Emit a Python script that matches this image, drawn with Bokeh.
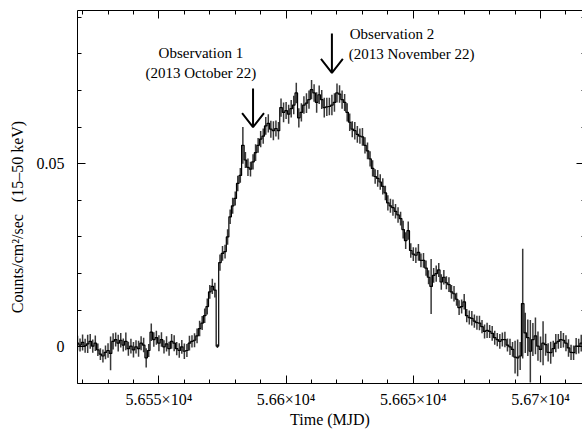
from bokeh.plotting import figure
from bokeh.models import Range1d, FixedTicker, CustomJSTickFormatter, LinearAxis, ColumnDataSource
from bokeh.embed import file_html
from bokeh.resources import INLINE
from bokeh.core.properties import value

# ---- data (Swift/BAT daily light curve, 15-50 keV) ----
mjd_start = 56518
rate_milli = [
    1.0, 0.5, 1.2, 0.3, 0.8, 1.5, 0.2, 1.0, -0.8, -2.0,
    -2.5, -1.5, -1.0, -1.8, 1.5, 2.0, 1.0, 1.8, 0.5, 1.5,
    -0.5, 0.2, -0.8, 0.0, -0.5, 1.0, 0.5, -3.0, -1.0, 4.0,
    2.0, 2.5, 1.0, 2.0, 0.0, 0.8, -0.5, 1.5, 1.0, -0.5,
    -1.0, 0.0, -1.2, -1.0, 1.0, 1.5, 1.8, 3.0, 5.0, 6.5,
    8.5, 11.0, 15.0, 16.5, 15.5, 0.2, 23.0, 25.5, 26.0, 30.0,
    35.5, 38.5, 40.5, 44.6, 46.8, 55.0, 51.0, 49.0, 48.5, 50.5,
    53.0, 55.0, 56.7, 57.5, 60.3, 61.0, 59.4, 59.0, 59.6, 59.0,
    65.3, 64.0, 64.5, 63.5, 65.0, 66.0, 69.3, 62.5, 64.0, 66.0,
    66.5, 67.5, 70.2, 69.3, 66.7, 68.8, 67.5, 65.3, 65.5, 65.6,
    66.0, 66.7, 69.3, 69.0, 67.5, 66.7, 64.0, 61.3, 59.4, 59.0,
    58.0, 57.5, 57.3, 55.0, 53.5, 51.3, 48.7, 46.5, 46.0, 45.0,
    43.8, 42.0, 39.3, 38.5, 38.0, 37.0, 36.0, 35.0, 32.0, 29.0,
    31.7, 26.3, 25.3, 25.0, 25.8, 23.6, 23.6, 21.5, 19.0, 16.5,
    19.5, 20.0, 21.0, 17.7, 19.0, 17.5, 17.0, 15.0, 14.5, 13.0,
    10.7, 11.0, 12.3, 8.5, 8.0, 7.8, 7.0, 6.6, 6.5, 5.5,
    4.2, 4.5, 4.2, 3.7, 2.5, 2.0, 1.5, 2.0, 2.0, 0.5,
    0.0, -0.7, -2.8, -3.0, -2.5, 11.8, 3.8, 2.5, -1.2, 2.0,
    3.0, 0.2, -0.7, 1.0, 0.6, -1.5, -1.6, -0.5, 1.0, 1.5,
    2.0, 1.8, 1.0, -0.3, -1.5, -1.6, 0.2, 0.2, 1.0, 0.5,
]
err_milli = [
    2.0, 1.8, 2.2, 1.9, 2.5, 2.0, 1.8, 2.1, 1.7, 1.6,
    1.8, 1.9, 2.0, 4.6, 2.2, 1.9, 2.3, 2.0, 1.8, 2.4,
    1.9, 2.0, 2.1, 1.8, 2.2, 1.9, 2.0, 2.6, 1.8, 2.4,
    2.0, 1.9, 2.2, 2.0, 1.8, 2.1, 1.9, 2.0, 2.2, 1.8,
    2.0, 1.9, 2.1, 1.8, 2.0, 1.7, 1.9, 2.0, 2.1, 1.9,
    2.0, 2.2, 1.9, 2.1, 2.0, 0.5, 2.2, 2.0, 1.9, 2.1,
    2.0, 2.2, 1.9, 2.1, 2.0, 5.0, 2.2, 2.4, 2.0, 2.1,
    2.3, 2.0, 2.2, 2.1, 2.4, 2.5, 2.3, 2.6, 2.2, 2.4,
    2.5, 2.7, 2.3, 2.6, 2.4, 2.5, 2.8, 2.6, 2.5, 2.4,
    2.7, 2.5, 2.6, 2.4, 2.8, 2.5, 2.6, 2.7, 2.5, 2.4,
    2.8, 2.5, 2.6, 2.4, 2.5, 2.3, 2.5, 2.4, 2.2, 2.4,
    2.3, 2.1, 2.4, 2.2, 2.3, 2.1, 2.2, 2.0, 2.3, 2.1,
    2.2, 2.0, 2.1, 1.9, 2.2, 2.0, 2.1, 1.9, 2.4, 2.3,
    2.5, 2.0, 1.9, 2.1, 2.3, 1.9, 2.0, 2.1, 1.9, 7.5,
    2.0, 2.2, 1.9, 2.1, 2.0, 1.8, 2.0, 1.9, 2.1, 1.8,
    2.0, 1.9, 2.1, 1.8, 1.9, 2.0, 1.8, 1.9, 2.0, 1.8,
    1.9, 2.1, 1.8, 2.0, 1.9, 1.8, 2.0, 1.9, 2.1, 1.8,
    2.2, 2.0, 4.5, 5.0, 3.8, 15.0, 5.5, 5.0, 8.5, 4.5,
    5.0, 4.0, 3.5, 6.0, 3.0, 2.5, 3.0, 2.2, 2.5, 2.0,
    2.3, 2.0, 2.2, 2.4, 2.1, 2.0, 2.2, 2.0, 2.3, 2.1,
]
mjd = [mjd_start + i for i in range(len(rate_milli))]
rate = [v / 1000.0 for v in rate_milli]
err = [e / 1000.0 for e in err_milli]

x_major_ticks = [56550, 56600, 56650, 56700]
x_minor_ticks = [56520, 56530, 56540, 56550, 56560, 56570, 56580, 56590, 56600, 56610,
                 56620, 56630, 56640, 56650, 56660, 56670, 56680, 56690, 56700, 56710]
y_major_ticks = [0.0, 0.05]
y_minor_ticks = [-0.01, 0.0, 0.01, 0.02, 0.03, 0.04, 0.05, 0.06, 0.07, 0.08, 0.09]

obs_mjd = [56587, 56618]
obs_names = ["Observation 1", "Observation 2"]
obs_dates = ["(2013 October 22)", "(2013 November 22)"]

FONT = "Liberation Serif"

src = ColumnDataSource(dict(
    x=mjd, y=rate,
    lo=[r - e for r, e in zip(rate, err)],
    hi=[r + e for r, e in zip(rate, err)],
))

p = figure(width=582, height=430, output_backend="svg", toolbar_location=None,
           x_range=Range1d(56518, 56716.5), y_range=Range1d(-0.0100, 0.0918),
           min_border_left=77, min_border_right=0, min_border_top=10, min_border_bottom=42)
p.outline_line_color = None
p.grid.visible = False
p.background_fill_color = "white"
p.border_fill_color = "white"

# error bars and step curve
p.segment(x0="x", y0="lo", x1="x", y1="hi", source=src, line_color="#383838", line_width=1.5)
p.step(x="x", y="y", source=src, mode="center", line_color="#000000", line_width=1.2)

# arrows marking observations
arrow_top = [0.0705, 0.0855]
arrow_tip = [0.0600, 0.0748]
hdx = 4.3
hdy = 0.0038
p.segment(x0=obs_mjd, y0=arrow_top, x1=obs_mjd, y1=arrow_tip, line_color="black", line_width=2)
p.multi_line(xs=[[x - hdx, x, x + hdx] for x in obs_mjd],
             ys=[[t + hdy, t, t + hdy] for t in arrow_tip],
             line_color="black", line_width=2)

# annotation texts
p.text(x=[56566.5, 56566.5], y=[0.0802, 0.0747], text=[obs_names[0], obs_dates[0]],
       text_font=value(FONT), text_font_size=value("15px"), text_color="black",
       text_align="center", text_baseline="middle")
p.text(x=[56625.0, 56624.6], y=[0.0855, 0.0799], text=[obs_names[1], obs_dates[1]],
       text_font=value(FONT), text_font_size=value("15px"), text_color="black",
       text_align="left", text_baseline="middle")

xfmt = CustomJSTickFormatter(code="""
var s = (tick/1e4).toPrecision(5).replace(/0+$/,'').replace(/\\.$/,'');
return s + '\\u00d710\\u2074';
""")
yfmt = CustomJSTickFormatter(code="return tick == 0 ? '0' : tick.toFixed(2);")


def style_axis(ax, ticks, minor, major_in=8, minor_in=4):
    ax.ticker = FixedTicker(ticks=ticks, minor_ticks=minor)
    ax.major_tick_in = major_in
    ax.major_tick_out = 0
    ax.minor_tick_in = minor_in
    ax.minor_tick_out = 0
    ax.axis_line_color = "black"
    ax.axis_line_width = 1
    ax.major_tick_line_color = "black"
    ax.minor_tick_line_color = "black"
    ax.major_tick_line_width = 1
    ax.minor_tick_line_width = 1
    ax.major_label_text_font = FONT
    ax.major_label_text_font_size = "16px"
    ax.major_label_text_color = "black"
    ax.axis_label_text_font = FONT
    ax.axis_label_text_font_size = "16px"
    ax.axis_label_text_font_style = "normal"
    ax.axis_label_text_color = "black"


xa = p.xaxis[0]
style_axis(xa, x_major_ticks, x_minor_ticks)
xa.formatter = xfmt
xa.major_label_standoff = 7
xa.axis_label = "Time (MJD)"
xa.axis_label_standoff = 0

ya = p.yaxis[0]
style_axis(ya, y_major_ticks, y_minor_ticks)
ya.formatter = yfmt
ya.major_label_standoff = 13
ya.axis_label = "Counts/cm\u00b2/sec \u00a0\u00a0(15\u201350 keV)" + "\u00a0" * 10
ya.axis_label_standoff = 8

top = LinearAxis()
style_axis(top, x_major_ticks, x_minor_ticks)
top.major_label_text_font_size = "1px"
top.major_label_text_color = None
top.major_label_standoff = 0
p.add_layout(top, "above")

right = LinearAxis()
style_axis(right, y_major_ticks, y_minor_ticks, major_in=6, minor_in=1)
right.axis_line_color = None
right.major_label_text_font_size = "1px"
right.major_label_text_color = None
right.major_label_standoff = 0
p.add_layout(right, "right")

open("out.html", "w", encoding="utf-8").write(file_html(p, INLINE))
